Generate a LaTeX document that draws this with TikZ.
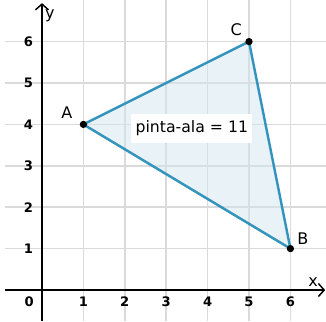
\documentclass[tikz,border=0pt]{standalone}
\usepackage{fontspec}
\setmainfont{DejaVu Sans}
\usetikzlibrary{arrows.meta}
\definecolor{gridgray}{RGB}{218,218,218}
\definecolor{triblue}{RGB}{52,148,190}
\definecolor{trifill}{RGB}{212,229,238}
\tikzset{
  gridline/.style={draw=gridgray, line width=1pt},
  axisline/.style={draw=black, line width=1.3pt, -{Straight Barb[length=4pt,width=9pt,line width=1pt]}},
  ticklbl/.style={font=\fontsize{9}{10}\selectfont\bfseries, inner sep=0pt},
  ptlbl/.style={font=\fontsize{11}{13}\selectfont, inner sep=0pt},
  dotpt/.style={circle, fill=black, inner sep=0pt, minimum size=5pt},
  areabox/.style={fill=white, inner sep=0pt, minimum width=2.92cm, minimum height=0.70cm, font=\fontsize{10.8}{12}\selectfont}
}
\begin{document}
\begin{tikzpicture}
\useasboundingbox (-1.014,-0.749) rectangle (6.860,7.005);
% grid
\foreach \i in {1,...,6} {
  \draw[gridline] (\i,-0.749) -- (\i,7.005);
  \draw[gridline] (-0.89,\i) -- (6.860,\i);
}
% triangle
\coordinate (A) at (1,4);
\coordinate (B) at (6,1);
\coordinate (C) at (5,6);
\fill[trifill, fill opacity=0.5] (A) -- (B) -- (C) -- cycle;
% area label
\node[areabox] (area) at (3.62,3.91) {pinta-ala = 11};
\draw[triblue, line width=1.7pt, line join=round] (A) -- (B) -- (C) -- cycle;
% axes
\coordinate (xs) at (-0.89,0);
\coordinate (xe) at (6.84,0);
\coordinate (ys) at (0,-0.749);
\coordinate (ye) at (0,6.93);
\draw[axisline] (xs) -- (xe);
\draw[axisline] (ys) -- (ye);
\node[ptlbl] (xl) at (6.55,0.19) {x};
\node[ptlbl] (yl) at (0.19,6.62) {y};
% tick labels
\node[ticklbl] (t0) at (-0.31,-0.29) {0};
\foreach \i in {1,...,6} {
  \node[ticklbl] (tx\i) at (\i,-0.29) {\i};
  \node[ticklbl] (ty\i) at (-0.33,\i) {\i};
}
% points
\node[dotpt] (pA) at (A) {};
\node[dotpt] (pB) at (B) {};
\node[dotpt] (pC) at (C) {};
\node[ptlbl] (lA) at (0.60,4.28) {A};
\node[ptlbl] (lB) at (6.30,1.23) {B};
\node[ptlbl] (lC) at (4.69,6.30) {C};
\end{tikzpicture}
\end{document}
